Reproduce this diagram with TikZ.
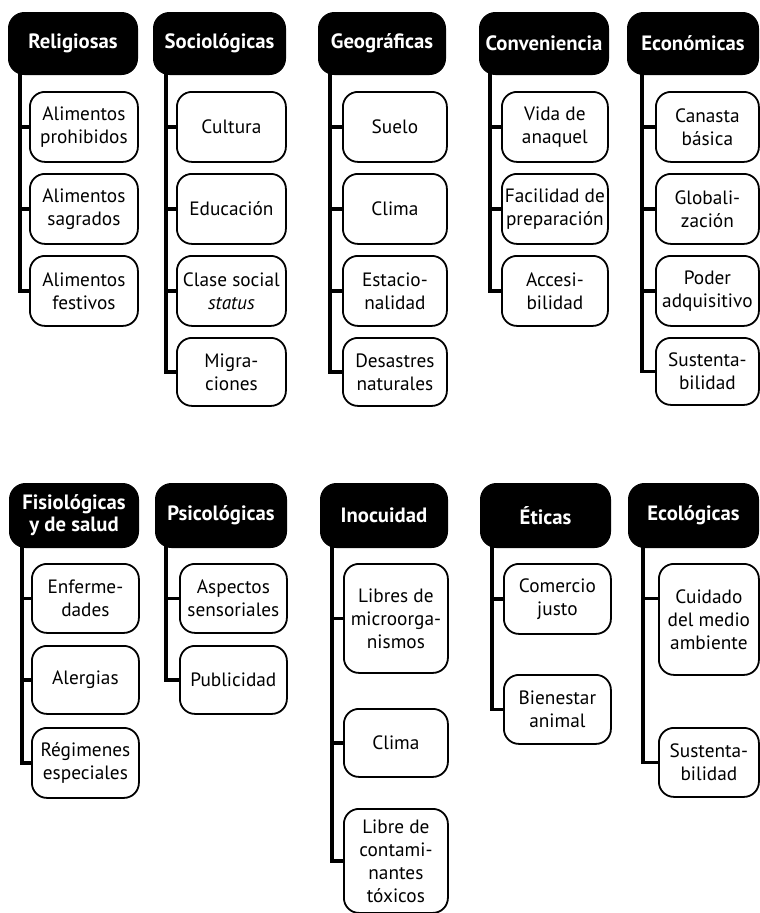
\documentclass[tikz,border=0pt]{standalone}
\usepackage{fontspec}
\setmainfont{PT Sans}
\begin{document}
\begin{tikzpicture}[x=1pt,y=-1pt,
  hdr/.style={fill=black, draw=black, line width=1pt, rounded corners=16pt, text=white,
    font=\bfseries\fontsize{20.7}{22}\selectfont, align=center, anchor=north west, inner sep=0pt},
  item/.style={draw=black, line width=1.8pt, fill=white, rounded corners=15pt,
    font=\fontsize{19.3}{23}\selectfont, align=center, anchor=north west, inner sep=0pt},
  conn/.style={line width=3.6pt, line join=miter}]
\useasboundingbox (0,0) rectangle (760,913);

% ---------------- top row: headers
\node[hdr, minimum width=129pt, minimum height=62pt] (R) at (8,12) {Religiosas};
\node[hdr, minimum width=132pt, minimum height=62pt] (S) at (153,12) {Sociológicas};
\node[hdr, minimum width=127pt, minimum height=62pt] (G) at (318,12) {Geográficas};
\node[hdr, minimum width=129pt, minimum height=62pt] (C) at (479,12) {Conveniencia};
\node[hdr, minimum width=131pt, minimum height=62pt] (E) at (627,12) {Económicas};

% connector tops
\coordinate (Rt) at (20,70);
\coordinate (St) at (166,70);
\coordinate (Gt) at (330,70);
\coordinate (Ct) at (490,70);
\coordinate (Et) at (642,70);

% Religiosas children
\node[item, minimum width=108pt, minimum height=70pt] (R1) at (29,91) {Alimentos\\prohibidos};
\node[item, minimum width=108pt, minimum height=70pt] (R2) at (29,173) {Alimentos\\sagrados};
\node[item, minimum width=108pt, minimum height=70pt] (R3) at (29,255) {Alimentos\\festivos};
% Sociológicas children
\node[item, minimum width=109pt, minimum height=70pt] (S1) at (176,91) {Cultura};
\node[item, minimum width=109pt, minimum height=70pt] (S2) at (176,173) {Educación};
\node[item, minimum width=109pt, minimum height=70pt] (S3) at (176,255) {Clase social\\\textit{status}};
\node[item, minimum width=109pt, minimum height=68pt] (S4) at (176,337) {Migra-\\ciones};
% Geográficas children
\node[item, minimum width=104pt, minimum height=70pt] (G1) at (342,91) {Suelo};
\node[item, minimum width=104pt, minimum height=70pt] (G2) at (342,173) {Clima};
\node[item, minimum width=104pt, minimum height=70pt] (G3) at (342,255) {Estacio-\\nalidad};
\node[item, minimum width=104pt, minimum height=68pt] (G4) at (342,337) {Desastres\\naturales};
% Conveniencia children
\node[item, minimum width=106pt, minimum height=70pt] (C1) at (501,91) {Vida de\\anaquel};
\node[item, minimum width=106pt, minimum height=70pt] (C2) at (501,173) {Facilidad de\\preparación};
\node[item, minimum width=106pt, minimum height=70pt] (C3) at (501,255) {Accesi-\\bilidad};
% Económicas children
\node[item, minimum width=103pt, minimum height=70pt] (E1) at (655,91) {Canasta\\básica};
\node[item, minimum width=103pt, minimum height=70pt] (E2) at (655,173) {Globali-\\zación};
\node[item, minimum width=103pt, minimum height=70pt] (E3) at (655,255) {Poder\\adquisitivo};
\node[item, minimum width=103pt, minimum height=67pt] (E4) at (655,337) {Sustenta-\\bilidad};

% ---------------- bottom row: headers
\node[hdr, minimum width=129pt, minimum height=64pt] (F) at (9,483) {Fisiológicas\\y de salud};
\node[hdr, minimum width=131pt, minimum height=64pt] (P) at (155,483) {Psicológicas};
\node[hdr, minimum width=127pt, minimum height=64pt] (I) at (320,483) {Inocuidad};
\node[hdr, minimum width=130pt, minimum height=64pt] (T) at (480,483) {Éticas};
\node[hdr, minimum width=130pt, minimum height=64pt] (K) at (628,483) {Ecológicas};

\coordinate (Ft) at (22,540);
\coordinate (Pt) at (166,540);
\coordinate (It) at (332,540);
\coordinate (Tt) at (492,540);
\coordinate (Kt) at (643,540);

% Fisiológicas children
\node[item, minimum width=107pt, minimum height=69pt] (F1) at (31,563) {Enferme-\\dades};
\node[item, minimum width=107pt, minimum height=68pt] (F2) at (31,645) {Alergias};
\node[item, minimum width=107pt, minimum height=70pt] (F3) at (31,727) {Régimenes\\especiales};
% Psicológicas children
\node[item, minimum width=107pt, minimum height=69pt] (P1) at (179,563) {Aspectos\\sensoriales};
\node[item, minimum width=107pt, minimum height=68pt] (P2) at (179,645) {Publicidad};
% Inocuidad children
\node[item, minimum width=104pt, minimum height=109pt] (I1) at (343,563) {Libres de\\microorga-\\nismos};
\node[item, minimum width=104pt, minimum height=68pt] (I2) at (343,708) {Clima};
\node[item, minimum width=104pt, minimum height=104pt] (I3) at (343,808) {Libre de\\contami-\\nantes\\tóxicos};
% Éticas children
\node[item, minimum width=107pt, minimum height=70pt] (T1) at (503,563) {Comercio\\justo};
\node[item, minimum width=107pt, minimum height=69pt] (T2) at (503,674) {Bienestar\\animal};
% Ecológicas children
\node[item, minimum width=100pt, minimum height=111pt] (K1) at (658,563) {Cuidado\\del medio\\ambiente};
\node[item, minimum width=100pt, minimum height=69pt] (K2) at (658,727) {Sustenta-\\bilidad};

% ---------------- connectors
\draw[conn] (Rt) |- (R1.west);
\draw[conn] (Rt) |- (R2.west);
\draw[conn] (Rt) |- (R3.west);
\draw[conn] (St) |- (S1.west);
\draw[conn] (St) |- (S2.west);
\draw[conn] (St) |- (S3.west);
\draw[conn] (St) |- (S4.west);
\draw[conn] (Gt) |- (G1.west);
\draw[conn] (Gt) |- (G2.west);
\draw[conn] (Gt) |- (G3.west);
\draw[conn] (Gt) |- (G4.west);
\draw[conn] (Ct) |- (C1.west);
\draw[conn] (Ct) |- (C2.west);
\draw[conn] (Ct) |- (C3.west);
\draw[conn] (Et) |- (E1.west);
\draw[conn] (Et) |- (E2.west);
\draw[conn] (Et) |- (E3.west);
\draw[conn] (Et) |- (E4.west);

\draw[conn] (Ft) |- (F1.west);
\draw[conn] (Ft) |- (F2.west);
\draw[conn] (Ft) |- (F3.west);
\draw[conn] (Pt) |- (P1.west);
\draw[conn] (Pt) |- (P2.west);
\draw[conn] (It) |- (I1.west);
\draw[conn] (It) |- (I2.west);
\draw[conn] (It) |- (I3.west);
\draw[conn] (Tt) |- (T1.west);
\draw[conn] (Tt) |- (T2.west);
\draw[conn] (Kt) |- ([yshift=21pt]K1.west);
\draw[conn] (Kt) |- (K2.west);
\end{tikzpicture}
\end{document}
